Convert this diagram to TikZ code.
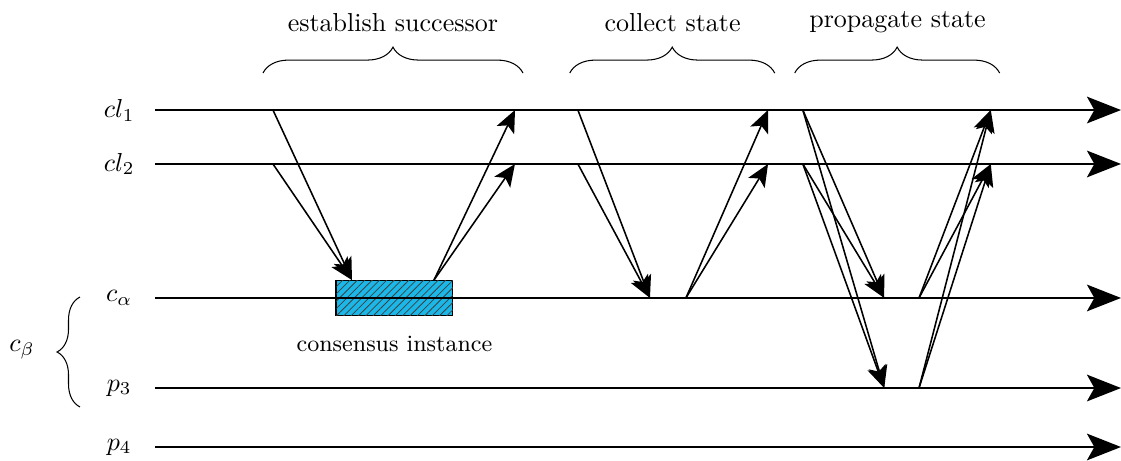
\documentclass[tikz,border=0pt]{standalone}
\usepackage{tikz}
\usetikzlibrary{arrows.meta,decorations.pathreplacing,patterns.meta,positioning}

\definecolor{consblue}{RGB}{27,183,232}

\begin{document}
\begin{tikzpicture}[>={Stealth[length=3mm,width=2.6mm,inset=0.7mm]},
    timeline/.style={thick,-{Stealth[length=4.6mm,width=3.6mm,inset=1mm]}},
    msg/.style={semithick,->},
    phase/.style={decorate,decoration={brace,amplitude=3.5mm}},
    consbox/.style={draw,thin,fill=consblue,minimum width=1.58cm,minimum height=4.7mm,
        postaction={pattern={Lines[angle=45,distance=2pt,line width=0.3pt]},pattern color=black!75}}]

    \useasboundingbox (0,0) rectangle (15.15,6.23);

    % processes
    \foreach \p/\y/\lbl in {cl1/4.743/cl_1, cl2/4.014/cl_2, ca/2.203/c_\alpha, p3/0.986/p_3, p4/0.189/p_4} {
        \node (\p) at (1.61,\y) {$\lbl$};
        \coordinate (\p-s) at (2.095,\y);
        \coordinate (\p-e) at (15.15,\y);
    }

    \node[consbox] (cons) at (5.331,0 |- ca-s) {};
    \node[below=1.5mm of cons,font=\small] (consl) {consensus instance};

    \foreach \p in {cl1,cl2,ca,p3,p4}
        \draw[timeline] (\p-s) -- (\p-e);

    % c_beta groups c_alpha and p_3
    \coordinate (gb) at (1.081,0.730);
    \coordinate (gt) at (1.081,2.216);
    \draw[phase,decoration={amplitude=3.1mm}] (gb) -- (gt);
    \node (cb) at (0.297,1.5) {$c_\beta$};

    % phases
    \coordinate (es-l) at (3.554,5.243);
    \coordinate (es-r) at (7.068,5.243);
    \coordinate (cs-l) at (7.70,5.243);
    \coordinate (cs-r) at (10.47,5.243);
    \coordinate (ps-l) at (10.74,5.243);
    \coordinate (ps-r) at (13.51,5.243);
    \draw[phase] (es-l) -- (es-r);
    \draw[phase] (cs-l) -- (cs-r);
    \draw[phase] (ps-l) -- (ps-r);
    \node (es) at (5.31,5.93) {establish successor};
    \node (cs) at (9.09,5.93) {collect state};
    \node (ps) at (12.13,5.93) {propagate state};

    % establish successor
    \coordinate (a1) at (3.689,0 |- cl1-s);
    \coordinate (a2) at (3.689,0 |- cl2-s);
    \coordinate (a3) at (4.757,0 |- cons.north);
    \coordinate (a4) at (5.865,0 |- cons.north);
    \coordinate (a5) at (6.96,0 |- cl1-s);
    \coordinate (a6) at (6.96,0 |- cl2-s);
    \path[msg] (a1) edge (a3)
               (a2) edge (a3)
               (a4) edge (a5)
               (a4) edge (a6);

    % collect state
    \coordinate (b1) at (7.81,0 |- cl1-s);
    \coordinate (b2) at (7.81,0 |- cl2-s);
    \coordinate (b3) at (8.784,0 |- ca-s);
    \coordinate (b4) at (9.27,0 |- ca-s);
    \coordinate (b5) at (10.38,0 |- cl1-s);
    \coordinate (b6) at (10.38,0 |- cl2-s);
    \path[msg] (b1) edge (b3)
               (b2) edge (b3)
               (b4) edge (b5)
               (b4) edge (b6);

    % propagate state
    \coordinate (c1) at (10.85,0 |- cl1-s);
    \coordinate (c2) at (10.85,0 |- cl2-s);
    \coordinate (c3) at (11.95,0 |- ca-s);
    \coordinate (c4) at (11.95,0 |- p3-s);
    \coordinate (c5) at (12.42,0 |- ca-s);
    \coordinate (c6) at (12.42,0 |- p3-s);
    \coordinate (c7) at (13.39,0 |- cl1-s);
    \coordinate (c8) at (13.39,0 |- cl2-s);
    \path[msg] (c1) edge (c3)
                    edge (c4)
               (c2) edge (c3)
                    edge (c4)
               (c5) edge (c7)
                    edge (c8)
               (c6) edge (c7)
                    edge (c8);

\end{tikzpicture}
\end{document}
